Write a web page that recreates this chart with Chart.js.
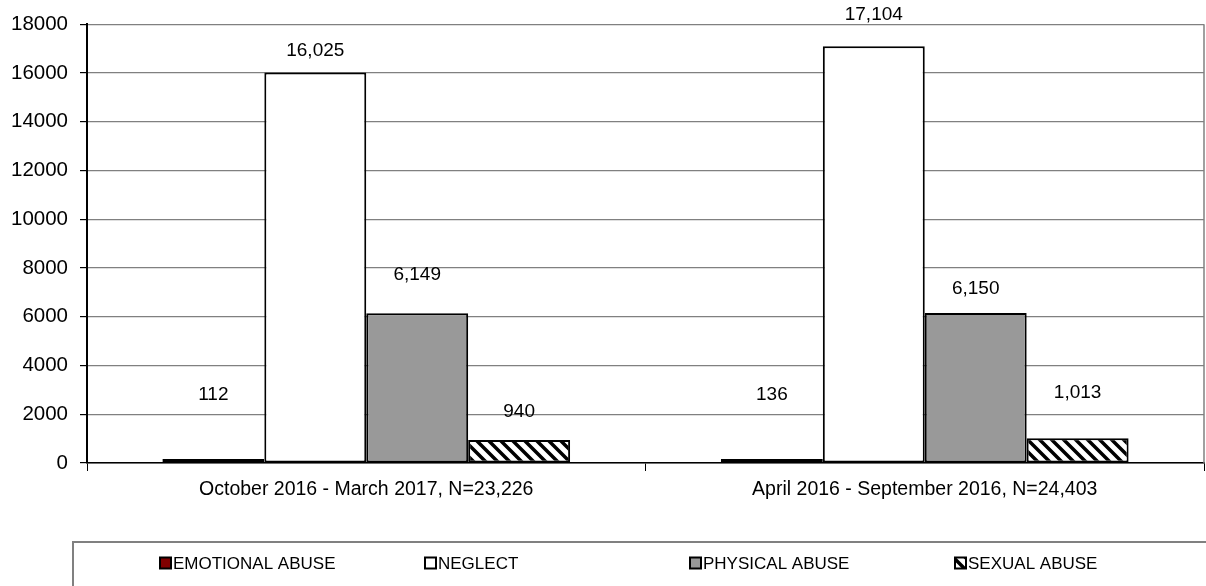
<!DOCTYPE html>
<html>
<head>
<meta charset="utf-8">
<script src="https://cdn.jsdelivr.net/npm/chart.js@4.4.1/dist/chart.umd.min.js"></script>
<style>
  html, body { margin: 0; padding: 0; background: #fff; }
  #wrap { width: 1206px; height: 586px; position: relative; }
</style>
</head>
<body>
<div id="wrap"><canvas id="abuseChart"></canvas></div>
<script>
    const periods = ['October 2016 - March 2017, N=23,226', 'April 2016 - September 2016, N=24,403'];
    const abuseTypes = ['EMOTIONAL ABUSE', 'NEGLECT', 'PHYSICAL ABUSE', 'SEXUAL ABUSE'];
    const emotional = [112, 136];
    const neglect = [16025, 17104];
    const physical = [6149, 6150];
    const sexual = [940, 1013];
    const yTicks = [0, 2000, 4000, 6000, 8000, 10000, 12000, 14000, 16000, 18000];

    // how far above the bar top each value label sits (px), like the excel layout
    const labelLift = [[64, 64], [22, 31], [38, 24], [28, 46]];

    const FONT = 'Liberation Sans, Arial, sans-serif';

    // diagonal hatch for the sexual abuse bars
    function makeHatch() {
        const c = document.createElement('canvas');
        c.width = 12; c.height = 12;
        const g = c.getContext('2d');
        g.fillStyle = '#fff';
        g.fillRect(0, 0, 12, 12);
        g.strokeStyle = '#000';
        g.lineWidth = 3.5;
        g.beginPath();
        for (let k = -12; k <= 24; k += 12) {
            g.moveTo(k - 6, -6);
            g.lineTo(k + 18, 18);
        }
        g.stroke();
        return g.createPattern(c, 'repeat');
    }

    const ctx = document.getElementById('abuseChart').getContext('2d');
    const hatch = makeHatch();
    const fills = ['#800000', '#ffffff', '#999999', hatch];

    const frameAndLabels = {
        id: 'frameAndLabels',
        beforeDatasetsDraw(chart) {
            const a = chart.chartArea;
            const c = chart.ctx;
            c.save();
            c.strokeStyle = '#808080';
            c.lineWidth = 1.5;
            c.beginPath();
            c.moveTo(a.right, a.top);
            c.lineTo(a.right, a.bottom);
            c.stroke();
            c.restore();
        },
        afterDatasetsDraw(chart) {
            const c = chart.ctx;
            c.save();
            c.font = '19px ' + FONT;
            c.fillStyle = '#000';
            c.textAlign = 'center';
            c.textBaseline = 'middle';
            chart.data.datasets.forEach((ds, i) => {
                chart.getDatasetMeta(i).data.forEach((bar, j) => {
                    c.fillText(ds.data[j].toLocaleString('en-US'), bar.x, bar.y - labelLift[i][j]);
                });
            });

            // legend box
            const top = 542;
            c.strokeStyle = '#808080';
            c.lineWidth = 2;
            c.strokeRect(73, top, chart.width + 20, 100);
            c.textAlign = 'left';
            c.font = '17px ' + FONT;
            abuseTypes.forEach((name, i) => {
                const x = 160 + i * 265;
                const y = top + 21;
                c.fillStyle = fills[i];
                c.fillRect(x, y - 5.5, 11, 11);
                c.strokeStyle = '#000';
                c.lineWidth = 2;
                c.strokeRect(x, y - 5.5, 11, 11);
                c.fillStyle = '#000';
                c.fillText(name, x + 13, y + 1);
            });
            c.restore();
        }
    };

    const abuseChart = new Chart(ctx, {
        type: 'bar',
        data: {
            labels: periods,
            datasets: abuseTypes.map((name, i) => ({
                label: name,
                data: [emotional, neglect, physical, sexual][i],
                backgroundColor: fills[i],
                borderColor: '#000',
                borderWidth: 2,
                borderSkipped: false,
                minBarLength: i === 0 ? 4 : 0,
                categoryPercentage: 0.73,
                barPercentage: 1.0
            }))
        },
        options: {
            responsive: true,
            maintainAspectRatio: false,
            animation: false,
            layout: { padding: { top: 24, right: 2, left: 0, bottom: 0 } },
            plugins: {
                legend: { display: false },
                tooltip: { enabled: false }
            },
            scales: {
                x: {
                    offset: true,
                    grid: {
                        offset: true,
                        drawOnChartArea: false,
                        drawTicks: true,
                        tickLength: 8,
                        color: '#000'
                    },
                    border: { color: '#000', width: 1.5 },
                    ticks: {
                        color: '#000',
                        font: { family: FONT, size: 19.5 },
                        padding: 7,
                        maxRotation: 0
                    },
                    afterFit(scale) { scale.height = 123; }
                },
                y: {
                    min: 0,
                    max: 18000,
                    afterBuildTicks(scale) { scale.ticks = yTicks.map(v => ({ value: v })); },
                    grid: {
                        color: '#808080',
                        lineWidth: 1.2,
                        tickLength: 7,
                        tickColor: '#000'
                    },
                    border: { color: '#000', width: 2 },
                    ticks: {
                        color: '#000',
                        font: { family: FONT, size: 20.5 },
                        padding: 12,
                        callback: v => String(v)
                    },
                    afterFit(scale) { scale.width = 87; }
                }
            }
        },
        plugins: [frameAndLabels]
    });
</script>
</body>
</html>
